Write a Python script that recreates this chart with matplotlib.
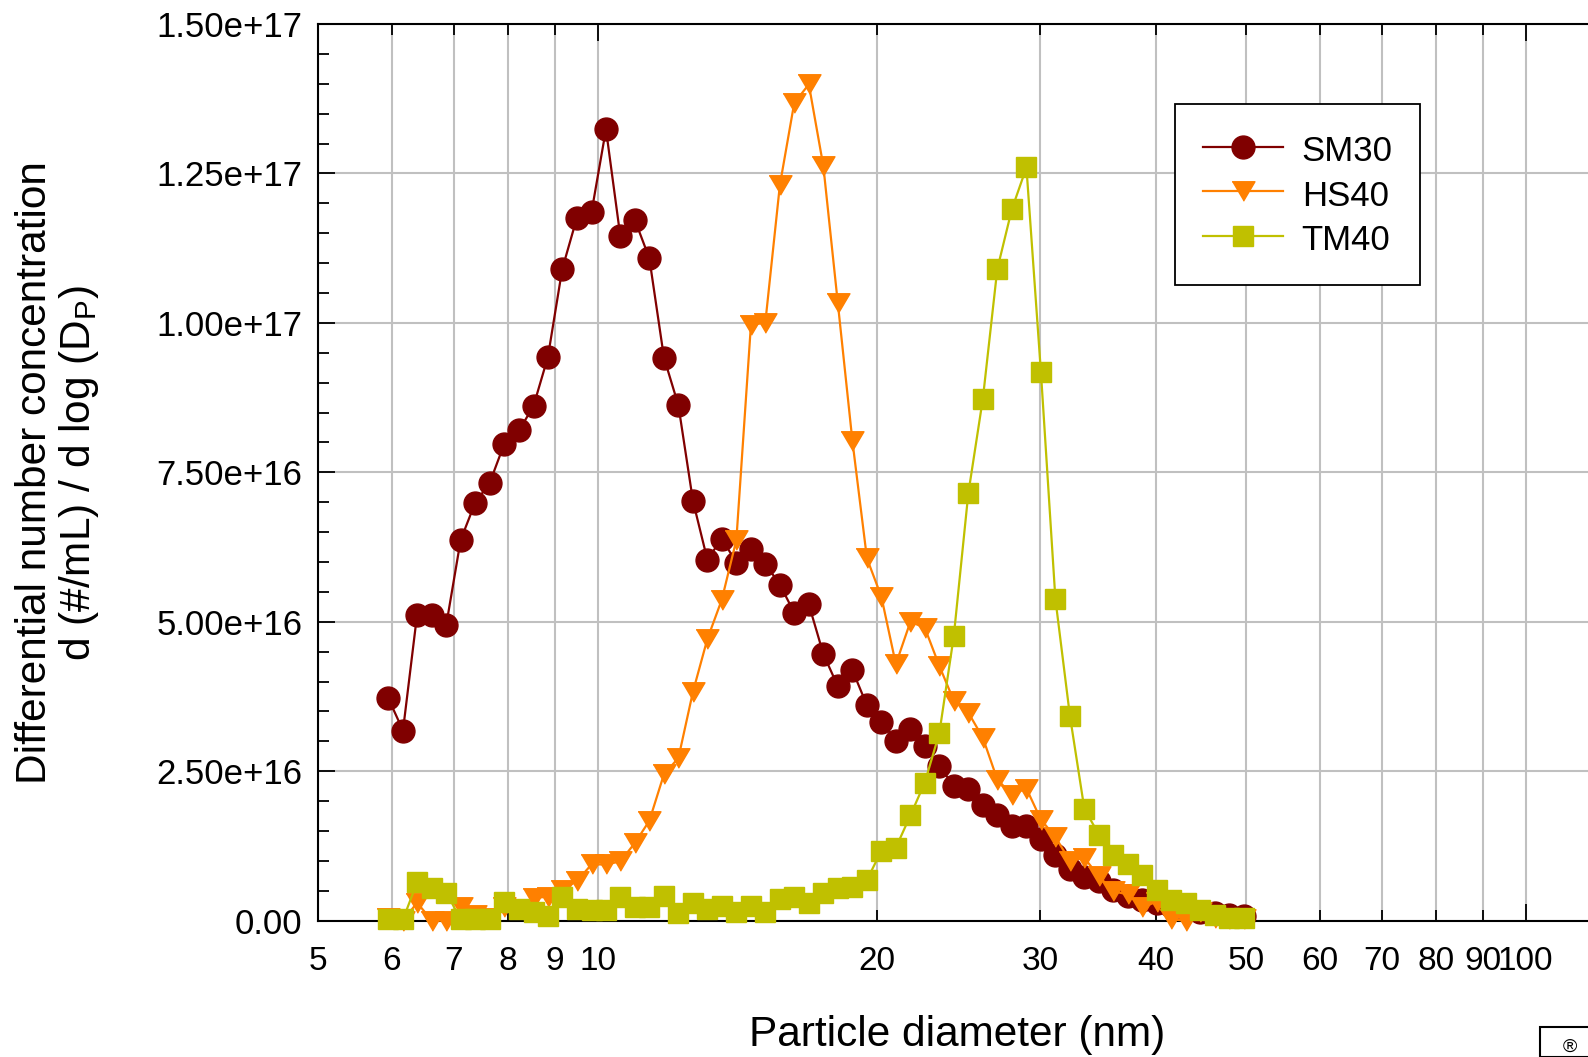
import numpy as np
import matplotlib
matplotlib.use("Agg")
import matplotlib.pyplot as plt
from matplotlib.ticker import FixedLocator, FuncFormatter, MultipleLocator
from matplotlib.patches import Rectangle

plt.rcParams["font.family"] = ["Liberation Sans", "DejaVu Sans"]
plt.rcParams["mathtext.fontset"] = "custom"
plt.rcParams["mathtext.rm"] = "Liberation Sans"
plt.rcParams["mathtext.it"] = "Liberation Sans:italic"

# SMPS channel midpoints (nm)
diameter = [5.95, 6.17, 6.39, 6.63, 6.87, 7.12, 7.38, 7.65, 7.93, 8.23,
            8.53, 8.84, 9.16, 9.50, 9.85, 10.21, 10.58, 10.97, 11.37, 11.79,
            12.22, 12.67, 13.13, 13.61, 14.11, 14.63, 15.16, 15.72, 16.29, 16.89,
            17.51, 18.15, 18.82, 19.51, 20.22, 20.96, 21.73, 22.52, 23.35, 24.20,
            25.09, 26.01, 26.96, 27.95, 28.98, 30.04, 31.14, 32.28, 33.46, 34.69,
            35.96, 37.27, 38.64, 40.05, 41.52, 43.04, 44.62, 46.25, 47.95, 49.70]

# dN/dlogDp in units of 1e16 #/mL
sm30 = [3.72, 3.18, 5.12, 5.12, 4.95, 6.37, 6.99, 7.32, 7.97, 8.20,
        8.61, 9.43, 10.9, 11.76, 11.85, 13.24, 11.45, 11.72, 11.08, 9.42,
        8.62, 7.02, 6.04, 6.39, 5.99, 6.21, 5.97, 5.62, 5.15, 5.29,
        4.46, 3.92, 4.19, 3.60, 3.33, 3.01, 3.21, 2.92, 2.58, 2.26,
        2.21, 1.94, 1.77, 1.59, 1.59, 1.37, 1.10, 0.86, 0.73, 0.66,
        0.51, 0.41, 0.34, 0.29, 0.24, 0.19, 0.15, 0.12, 0.10, 0.08]

hs40 = [0.05, 0.0, 0.30, 0.0, 0.0, 0.22, 0.10, 0.05, 0.23, 0.20,
        0.38, 0.40, 0.52, 0.66, 0.94, 0.94, 0.99, 1.30, 1.67, 2.45,
        2.72, 3.83, 4.71, 5.37, 6.37, 9.97, 10.0, 12.31, 13.68, 13.99,
        12.62, 10.33, 8.02, 6.06, 5.42, 4.29, 5.0, 4.9, 4.26, 3.68,
        3.48, 3.06, 2.36, 2.11, 2.21, 1.69, 1.40, 1.0, 1.05, 0.74,
        0.49, 0.44, 0.22, 0.32, 0.02, 0.0, 0.14, 0.05, 0.03, 0.03]

tm40 = [0.02, 0.02, 0.64, 0.54, 0.47, 0.02, 0.02, 0.02, 0.31, 0.20,
        0.15, 0.08, 0.40, 0.20, 0.17, 0.17, 0.40, 0.23, 0.22, 0.42,
        0.12, 0.29, 0.20, 0.25, 0.14, 0.24, 0.15, 0.37, 0.39, 0.29,
        0.47, 0.54, 0.57, 0.68, 1.17, 1.22, 1.76, 2.31, 3.14, 4.76,
        7.15, 8.73, 10.9, 11.9, 12.6, 9.18, 5.38, 3.43, 1.87, 1.44,
        1.10, 0.94, 0.76, 0.51, 0.34, 0.30, 0.17, 0.09, 0.05, 0.05]

series = [
    ("SM30", sm30, "#800000", "o", 16.5),
    ("HS40", hs40, "#ff8000", [(-1, 0.85), (1, 0.85), (0, -0.85)], 16.5),
    ("TM40", tm40, "#c0c000", "s", 14.4),
]

fig = plt.figure(figsize=(15.88, 10.57), dpi=100)
ax = fig.add_axes([0.2004, 0.129, 0.8021, 0.8483])

for name, vals, color, marker, ms in series:
    ax.plot(diameter, np.array(vals) * 1e16, color=color, lw=1.6,
            marker=marker, ms=ms, mec=color, mfc=color, label=name,
            clip_on=False, zorder=3)

ax.set_xscale("log")
ax.set_xlim(5, 117.9)
ax.set_ylim(0, 1.5e17)

# x ticks: decades long, intermediate values short, all labelled
ax.xaxis.set_major_locator(FixedLocator([10, 100]))
ax.xaxis.set_minor_locator(FixedLocator([5, 6, 7, 8, 9, 20, 30, 40, 50, 60, 70, 80, 90]))
int_fmt = FuncFormatter(lambda v, p: f"{v:g}")
ax.xaxis.set_major_formatter(int_fmt)
ax.xaxis.set_minor_formatter(int_fmt)

ax.yaxis.set_major_locator(MultipleLocator(2.5e16))
ax.yaxis.set_minor_locator(MultipleLocator(5e15))
ax.yaxis.set_major_formatter(FuncFormatter(lambda v, p: "0.00" if v == 0 else f"{v:.2e}"))

ax.tick_params(which="both", direction="in", top=True, right=False,
               width=1.3, colors="black")
ax.tick_params(which="major", length=12)
ax.tick_params(which="minor", length=8)
ax.tick_params(axis="x", which="both", pad=18, labelsize=24)
ax.tick_params(axis="y", which="both", pad=11.5, labelsize=25)

ax.grid(True, axis="x", which="both", color="#c0c0c0", lw=1.5, zorder=0)
ax.grid(True, axis="y", which="major", color="#c0c0c0", lw=1.5, zorder=0)
ax.set_axisbelow(True)
for sp in ax.spines.values():
    sp.set_linewidth(1.5)

fig.text(0.6026, 0.0205, "Particle diameter (nm)", fontsize=30.5,
         ha="center", va="center")
fig.text(0.0366, 0.553,
         "Differential number concentration\nd (#/mL) / d log (D$_\\mathrm{P}$)",
         fontsize=30.5, rotation=90, ha="center", va="center",
         multialignment="center", linespacing=1.05)

leg = ax.legend(loc="upper left", bbox_to_anchor=(0.7399, 0.9016),
                bbox_transform=fig.transFigure, borderaxespad=0,
                fontsize=25, handlelength=2.3, handletextpad=0.55,
                handleheight=1.2, borderpad=0.8, labelspacing=0.23,
                fancybox=False, framealpha=1, edgecolor="black")
leg.get_frame().set_linewidth(1.3)

# small badge in the lower right corner
fig.patches.append(Rectangle((1540 / 1588, 0), 0.05, 30 / 1057,
                             transform=fig.transFigure, fill=False,
                             edgecolor="black", lw=1.5))
fig.text(1570 / 1588, 0.001, "\u00ae", fontsize=14, ha="center", va="bottom")

fig.savefig("out.png", dpi=100)
